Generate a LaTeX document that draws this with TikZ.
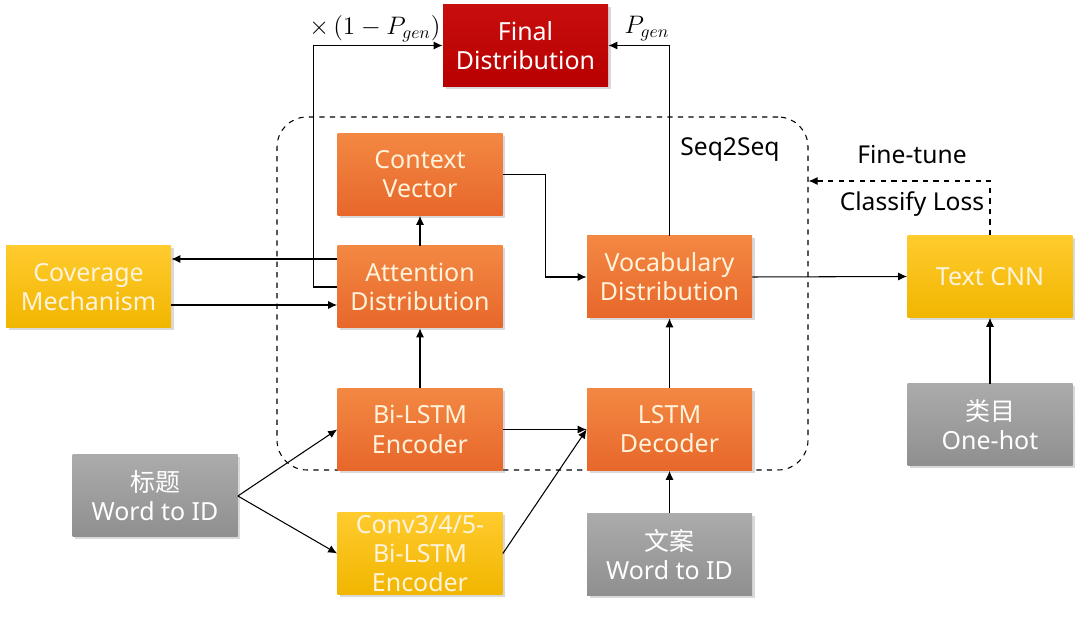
\documentclass[tikz,border=0pt]{standalone}
\usepackage{fontspec}
\setmainfont{Noto Sans}
\newfontfamily\cjk{Noto Sans CJK SC}
\usetikzlibrary{arrows.meta, positioning, calc, shadows}

\definecolor{orTop}{HTML}{F38843}
\definecolor{orBot}{HTML}{E7672A}
\definecolor{yeTop}{HTML}{FFCB2E}
\definecolor{yeBot}{HTML}{F1B600}
\definecolor{grTop}{HTML}{ABABAB}
\definecolor{grBot}{HTML}{8F8F8F}
\definecolor{rdTop}{HTML}{C80D0D}
\definecolor{rdBot}{HTML}{B80000}
\definecolor{paleText}{HTML}{FFF3DC}

\begin{document}
\begin{tikzpicture}[
    box/.style={minimum width=3.3cm, minimum height=1.64cm, align=center,
      inner sep=1pt, font=\fontsize{14.2}{16.6}\selectfont,
      drop shadow={opacity=0.3, shadow xshift=0.05cm, shadow yshift=-0.05cm}},
    obox/.style={box, top color=orTop, bottom color=orBot, text=paleText},
    ybox/.style={box, top color=yeTop, bottom color=yeBot, text=paleText},
    gbox/.style={box, top color=grTop, bottom color=grBot, text=white},
    rbox/.style={box, top color=rdTop, bottom color=rdBot, text=white},
    arr/.style={-{Latex[length=1.8mm, width=1.6mm]}, line width=0.6pt},
    lbl/.style={font=\fontsize{14}{16}\selectfont}
]
\useasboundingbox (0,0) rectangle (21.6,12.42);

%% Seq2Seq block
\node[draw, dashed, line width=0.6pt, rounded corners=0.6cm,
  minimum width=10.62cm, minimum height=7.06cm] (seq) at (10.85,6.55) {};
\node[lbl] (seqlbl) at (14.6,9.42) {Seq2Seq};

%% boxes
\node[rbox] (final) at (10.51,11.51) {Final\\Distribution};
\node[obox] (ctx) at (8.40,8.93) {Context\\Vector};
\node[obox] (att) at (8.40,6.68) {Attention\\Distribution};
\node[ybox] (cov) at (1.77,6.68) {Coverage\\Mechanism};
\node[obox] (voc) at (13.39,6.88) {Vocabulary\\Distribution};
\node[obox] (enc) at (8.40,3.83) {Bi-LSTM\\Encoder};
\node[obox] (dec) at (13.39,3.83) {LSTM\\Decoder};
\node[gbox] (title) at (3.10,2.50) {{\cjk 标题}\\Word to ID};
\node[ybox] (conv) at (8.40,1.35) {Conv3/4/5-\\Bi-LSTM\\Encoder};
\node[gbox] (copy) at (13.39,1.33) {{\cjk 文案}\\Word to ID};
\node[ybox] (cnn) at (19.80,6.89) {Text CNN};
\node[gbox] (cat) at (19.80,3.92) {{\cjk 类目}\\One-hot};

%% labels
\node[font=\fontsize{14.5}{16}\selectfont] (pcopy) at (7.5,11.85) {$\times\,(1-P_{gen})$};
\node[font=\fontsize{14.5}{16}\selectfont] (pgen) at (12.94,11.85) {$P_{gen}$};
\node[lbl] (fine) at (18.24,9.32) {Fine-tune};
\node[lbl] (loss) at (18.24,8.34) {Classify Loss};

%% connectors
\draw[arr] (att.west) -- ++(-0.48,0) |- (final.west);
\draw[arr] (voc.north) |- (final.east);
\draw[arr] (att.north) -- (ctx.south);
\draw[arr] (ctx.east) -- ++(0.86,0) |- (voc.west);
\draw[arr] ([yshift=0.56cm]att.west) -- ([yshift=0.56cm]cov.east);
\draw[arr] ([yshift=-0.36cm]cov.east) -- ([yshift=-0.36cm]att.west);
\draw[arr] (enc.north) -- (att.south);
\draw[arr] (dec.north) -- (voc.south);
\draw[arr] (enc.east) -- (dec.west);
\draw[arr] (conv.east) -- (dec.west);
\draw[arr] (title.east) -- (enc.west);
\draw[arr] (title.east) -- (conv.west);
\draw[arr] (copy.north) -- (dec.south);
\draw[arr] (cat.north) -- (cnn.south);
\draw[arr] (voc.east) -- (cnn.west);
\draw[arr, dashed] (cnn.north) |- (seq.east |- 0,8.8);
\end{tikzpicture}
\end{document}
